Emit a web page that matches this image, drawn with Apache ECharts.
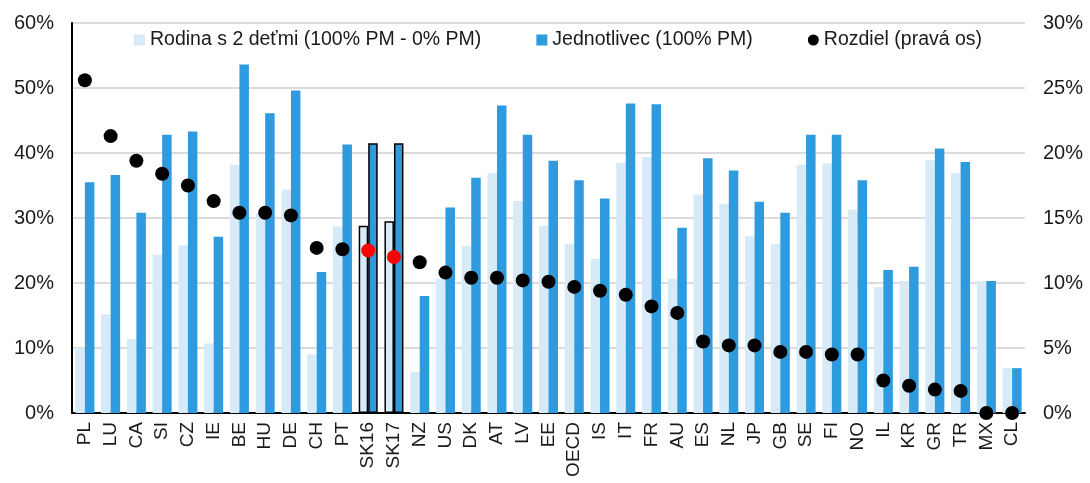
<!DOCTYPE html>
<html>
<head>
<meta charset="utf-8">
<script src="https://cdn.jsdelivr.net/npm/echarts@6/dist/echarts.min.js"></script>
<style>html,body{margin:0;padding:0;background:#fff}#c{width:1090px;height:483px}</style>
</head>
<body>
<div id="c"></div>
<script>
const categories = ['PL','LU','CA','SI','CZ','IE','BE','HU','DE','CH','PT','SK16','SK17','NZ','US','DK','AT','LV','EE','OECD','IS','IT','FR','AU','ES','NL','JP','GB','SE','FI','NO','IL','KR','GR','TR','MX','CL'];
const family = [10.0,15.2,11.4,24.4,25.8,10.7,38.2,30.7,34.4,9.0,28.7,28.8,29.5,6.3,20.6,25.7,36.9,32.6,28.8,26.0,23.7,38.5,39.4,20.7,33.6,32.2,27.2,26.0,38.2,38.4,31.3,19.4,20.3,38.9,36.9,20.3,6.9];
const single = [35.5,36.6,30.8,42.8,43.3,27.1,53.6,46.1,49.6,21.7,41.3,41.5,41.5,18.0,31.6,36.2,47.3,42.8,38.8,35.8,33.0,47.6,47.5,28.5,39.2,37.3,32.5,30.8,42.8,42.8,35.8,22.0,22.5,40.7,38.6,20.3,6.9];
const diff = [25.6,21.3,19.4,18.4,17.5,16.3,15.4,15.4,15.2,12.7,12.6,12.5,12.0,11.6,10.8,10.4,10.4,10.2,10.1,9.7,9.4,9.1,8.2,7.7,5.5,5.2,5.2,4.7,4.7,4.5,4.5,2.5,2.1,1.8,1.7,0,0];
const leftTicks = {min:0,max:60,interval:10};
const rightTicks = {min:0,max:30,interval:5};
const highlight = ['SK16','SK17'];

const LIGHT = '#d6eaf8', DARK = '#2e9bde';
const font = 'Liberation Sans, Arial, sans-serif';

function barData(vals){
  return vals.map((v,i)=> highlight.includes(categories[i])
    ? {value:v,itemStyle:{borderColor:'#000',borderWidth:1.5}} : v);
}
const dotData = diff.map((v,i)=> highlight.includes(categories[i])
  ? {value:v,itemStyle:{color:'#ff0000',opacity:1}} : v);

const chart = echarts.init(document.getElementById('c'), null, {renderer:'canvas'});
chart.setOption({
  backgroundColor:'#fff',
  animation:false,
  textStyle:{fontFamily:font},
  grid:{left:72,right:65,top:23,bottom:70,containLabel:false},
  legend:{
    left:134, top:30, padding:0, itemWidth:11, itemHeight:11, itemGap:55,
    textStyle:{fontFamily:font,fontSize:19.5,color:'#1a1a1a'},
    data:[
      {name:'Rodina s 2 deťmi (100% PM - 0% PM)',icon:'rect'},
      {name:'Jednotlivec (100% PM)',icon:'rect'},
      {name:'Rozdiel (pravá os)',icon:'circle'}
    ]
  },
  xAxis:{
    type:'category', data:categories,
    axisLine:{lineStyle:{color:'#000',width:2}},
    axisTick:{show:false},
    axisLabel:{rotate:90,fontFamily:font,fontSize:19,color:'#1a1a1a',margin:9,interval:0}
  },
  yAxis:[
    {type:'value',min:leftTicks.min,max:leftTicks.max,interval:leftTicks.interval,
     axisLine:{show:true,lineStyle:{color:'#000',width:2}},axisTick:{show:false},
     axisLabel:{formatter:'{value}%',fontFamily:font,fontSize:20,color:'#1a1a1a',margin:18},
     splitLine:{lineStyle:{color:'#d0d0d0',width:1.5}}},
    {type:'value',min:rightTicks.min,max:rightTicks.max,interval:rightTicks.interval,
     axisLine:{show:false},axisTick:{show:false},
     axisLabel:{formatter:'{value}%',fontFamily:font,fontSize:20,color:'#1a1a1a',margin:18},
     splitLine:{show:false}}
  ],
  series:[
    {name:'Rodina s 2 deťmi (100% PM - 0% PM)',type:'bar',data:barData(family),
     barWidth:9.5,barGap:'0%',itemStyle:{color:LIGHT}},
    {name:'Jednotlivec (100% PM)',type:'bar',data:barData(single),
     barWidth:9.5,barGap:'0%',itemStyle:{color:DARK}},
    {name:'Rozdiel (pravá os)',type:'scatter',yAxisIndex:1,data:dotData,
     symbolSize:14,itemStyle:{color:'#000',opacity:1},z:5}
  ]
});
</script>
</body>
</html>
